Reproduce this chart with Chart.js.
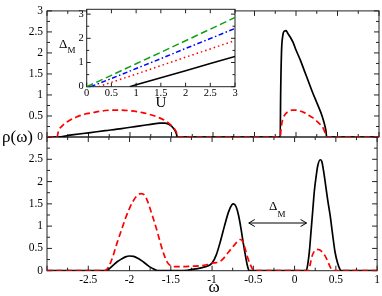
<!DOCTYPE html>
<html><head><meta charset="utf-8">
<script src="https://cdn.jsdelivr.net/npm/chart.js@4.4.0/dist/chart.umd.min.js"></script>
<style>
html,body{margin:0;padding:0;background:#fff;}
#wrap{position:relative;width:382px;height:296px;overflow:hidden;background:#fff;}
canvas{position:absolute;left:0;top:0;}
</style></head><body>
<div id="wrap">
<canvas id="cBottom" width="382" height="296"></canvas>
<canvas id="cTop" width="382" height="296"></canvas>
<canvas id="cInset" width="382" height="296"></canvas>
</div>
<script>
// ---------- DATA ----------
// Top panel: rho(omega)
const topBlackOmega = [-3, -2.88, -2.7, -2.5, -2.3, -2.1, -1.9, -1.75, -1.64, -1.58, -1.54, -1.5, -1.47, -1.45, -1.44, -1.43, -0.19, -0.185, -0.175, -0.16, -0.14, -0.12, -0.10, -0.07, -0.035, 0.0, 0.05, 0.1, 0.15, 0.2, 0.25, 0.3, 0.33, 0.35, 0.36, 0.37, 1];
const topBlackRho   = [0, 0, 0.05, 0.10, 0.15, 0.20, 0.26, 0.30, 0.33, 0.33, 0.31, 0.26, 0.19, 0.12, 0.07, 0, 0, 1.0, 2.0, 2.4, 2.52, 2.53, 2.47, 2.38, 2.25, 2.07, 1.84, 1.58, 1.32, 1.06, 0.82, 0.58, 0.40, 0.25, 0.15, 0, 0];
const topRedOmega = [-3, -2.88, -2.86, -2.82, -2.75, -2.65, -2.55, -2.45, -2.3, -2.155, -2.0, -1.85, -1.75, -1.65, -1.56, -1.5, -1.46, -1.44, -1.43, -0.19, -0.18, -0.16, -0.13, -0.09, -0.04, 0.0, 0.05, 0.1, 0.15, 0.2, 0.25, 0.3, 0.33, 0.35, 0.37, 1];
const topRedRho   = [0, 0, 0.15, 0.26, 0.37, 0.47, 0.54, 0.58, 0.63, 0.64, 0.625, 0.58, 0.53, 0.46, 0.37, 0.27, 0.18, 0.11, 0, 0, 0.2, 0.42, 0.54, 0.61, 0.64, 0.64, 0.62, 0.58, 0.52, 0.46, 0.38, 0.28, 0.2, 0.1, 0, 0];

// Bottom panel: rho(omega)
const botBlackOmega = [-3, -2.3, -2.25, -2.2, -2.15, -2.1, -2.05, -2.0, -1.95, -1.9, -1.85, -1.8, -1.75, -1.7, -1.66, -1.4, -1.3, -1.2, -1.1, -1.0, -0.95, -0.9, -0.85, -0.8, -0.76, -0.74, -0.71, -0.68, -0.65, -0.62, -0.59, -0.57, -0.55, 0.14, 0.16, 0.18, 0.2, 0.22, 0.24, 0.26, 0.28, 0.31, 0.33, 0.35, 0.37, 0.4, 0.43, 0.46, 0.49, 0.52, 0.55, 0.57, 1];
const botBlackRho   = [0, 0, 0.04, 0.12, 0.2, 0.26, 0.31, 0.33, 0.32, 0.28, 0.22, 0.15, 0.08, 0.03, 0, 0, 0.01, 0.04, 0.08, 0.17, 0.35, 0.65, 1.0, 1.32, 1.48, 1.5, 1.44, 1.25, 0.95, 0.6, 0.28, 0.1, 0, 0, 0.15, 0.45, 0.9, 1.35, 1.8, 2.1, 2.35, 2.49, 2.45, 2.25, 2.0, 1.6, 1.25, 0.82, 0.42, 0.18, 0.03, 0, 0];
const botRedOmega = [-3, -2.3, -2.25, -2.2, -2.15, -2.1, -2.05, -2.0, -1.95, -1.9, -1.86, -1.82, -1.78, -1.74, -1.7, -1.66, -1.62, -1.58, -1.54, -1.5, -1.45, -1.35, -1.25, -1.15, -1.05, -1.0, -0.95, -0.9, -0.85, -0.8, -0.75, -0.7, -0.66, -0.63, -0.6, -0.57, -0.54, -0.51, -0.49, 0.17, 0.19, 0.21, 0.24, 0.27, 0.3, 0.33, 0.36, 0.39, 0.42, 0.45, 0.47, 1];
const botRedRho   = [0, 0, 0.1, 0.33, 0.63, 0.9, 1.17, 1.4, 1.58, 1.7, 1.73, 1.7, 1.55, 1.33, 1.1, 0.85, 0.58, 0.35, 0.18, 0.11, 0.09, 0.09, 0.1, 0.11, 0.14, 0.17, 0.18, 0.21, 0.3, 0.42, 0.53, 0.64, 0.7, 0.66, 0.5, 0.3, 0.15, 0.04, 0, 0, 0.15, 0.32, 0.44, 0.48, 0.47, 0.43, 0.36, 0.26, 0.13, 0.02, 0, 0];

// Inset: Delta_M vs U
const insetGreenU = [0, 0.5, 1, 1.5, 2, 2.5, 3];
const insetGreenD = [0, 0.47, 0.95, 1.42, 1.9, 2.38, 2.86];
const insetBlueU  = [0.08, 0.5, 1, 1.5, 2, 2.5, 3];
const insetBlueD  = [0, 0.34, 0.75, 1.16, 1.58, 1.99, 2.41];
const insetRedU   = [0.24, 0.5, 1, 1.5, 2, 2.5, 3];
const insetRedD   = [0, 0.18, 0.52, 0.87, 1.22, 1.56, 1.91];
const insetBlackU = [0.87, 1, 1.5, 2, 2.5, 3];
const insetBlackD = [0, 0.08, 0.37, 0.66, 0.96, 1.25];

// Gap arrow (in data units of the bottom panel)
const gapArrowOmega = [-0.555, 0.145];
const gapArrowRho = 1.07;

// Axis ranges / tick steps
const omegaRange = [-3, 1];
const rhoRange = [0, 3];
const insetURange = [0, 3];
const insetDRange = [0, 3.2];

// ---------- helpers ----------
const SERIF = '"Liberation Serif", "Times New Roman", serif';
Chart.defaults.font.family = SERIF;
Chart.defaults.color = '#000';
function pts(xs, ys){ return xs.map((x, i) => ({x: x, y: ys[i]})); }
function isMajor(v, step){ const r = v / step; return Math.abs(r - Math.round(r)) < 1e-6; }
function fmt(v){ return String(Math.round(v * 100) / 100); }

const frameTicks = {
  id: 'frameTicks',
  beforeDatasetsDraw(chart, args, o){
    const ctx = chart.ctx, a = chart.chartArea;
    const xs = chart.scales.x, ys = chart.scales.y;
    ctx.save();
    if (o.fill){ ctx.fillStyle = o.fill; ctx.fillRect(a.left, a.top, a.right - a.left, a.bottom - a.top); }
    ctx.strokeStyle = o.color; ctx.lineWidth = 1;
    ctx.strokeRect(a.left, a.top, a.right - a.left, a.bottom - a.top);
    ctx.beginPath();
    for (let i = 0; ; i++){
      const v = xs.min + i * o.xMinor; if (v > xs.max + 1e-9) break;
      const p = xs.getPixelForValue(v);
      const len = isMajor(v, o.xMajor) ? o.major : o.minor;
      if (o.sides.includes('b')){ ctx.moveTo(p, a.bottom); ctx.lineTo(p, a.bottom - len); }
      if (o.sides.includes('t')){ ctx.moveTo(p, a.top); ctx.lineTo(p, a.top + len); }
    }
    for (let i = 0; ; i++){
      const v = ys.min + i * o.yMinor; if (v > ys.max + 1e-9) break;
      const p = ys.getPixelForValue(v);
      const len = isMajor(v, o.yMajor) ? o.major : o.minor;
      if (o.sides.includes('l')){ ctx.moveTo(a.left, p); ctx.lineTo(a.left + len, p); }
      if (o.sides.includes('r')){ ctx.moveTo(a.right, p); ctx.lineTo(a.right - len, p); }
    }
    ctx.stroke();
    ctx.restore();
  }
};

const texts = {
  id: 'texts',
  afterDatasetsDraw(chart, args, o){
    const ctx = chart.ctx;
    ctx.save();
    ctx.fillStyle = '#000';
    ctx.textBaseline = 'alphabetic';
    (o.items || []).forEach(t => {
      ctx.font = t.font; ctx.textAlign = t.align || 'left';
      ctx.fillText(t.text, t.x, t.y);
    });
    if (o.arrow){
      const xs = chart.scales.x, ys = chart.scales.y;
      const x1 = xs.getPixelForValue(o.arrow.x[0]), x2 = xs.getPixelForValue(o.arrow.x[1]);
      const y = ys.getPixelForValue(o.arrow.y);
      ctx.strokeStyle = '#000'; ctx.lineWidth = 1;
      ctx.beginPath();
      ctx.moveTo(x1, y); ctx.lineTo(x2, y);
      ctx.moveTo(x1 + 6, y - 3.5); ctx.lineTo(x1, y); ctx.lineTo(x1 + 6, y + 3.5);
      ctx.moveTo(x2 - 6, y - 3.5); ctx.lineTo(x2, y); ctx.lineTo(x2 - 6, y + 3.5);
      ctx.stroke();
    }
    ctx.restore();
  }
};

const lineStyle = {pointRadius: 0, borderWidth: 1.7, fill: false, cubicInterpolationMode: 'monotone'};
const BLACK = '#000000', RED = '#ff0000';

function mainChart(id, datasets, opts){
  return new Chart(document.getElementById(id), {
    type: 'line',
    data: {datasets: datasets},
    plugins: [frameTicks, texts],
    options: {
      responsive: false, animation: false, devicePixelRatio: 1,
      layout: {padding: opts.padding},
      scales: {
        x: {
          type: 'linear', min: omegaRange[0], max: omegaRange[1], display: opts.xDisplay,
          grid: {display: false, drawTicks: false}, border: {display: false},
          ticks: {stepSize: 0.5, padding: 2, font: {size: 11.5}, maxRotation: 0, autoSkip: false,
                  callback: v => (Math.abs(v - omegaRange[0]) < 1e-9 ? '' : fmt(v))},
          afterFit: s => { s.height = opts.xHeight; }
        },
        y: {
          type: 'linear', min: rhoRange[0], max: rhoRange[1],
          grid: {display: false, drawTicks: false}, border: {display: false},
          ticks: {stepSize: 0.5, padding: 4, font: {size: 11.5}, includeBounds: false,
                  callback: v => (opts.hideTop && Math.abs(v - rhoRange[1]) < 1e-9 ? '' : fmt(v))},
          afterFit: s => { s.width = 47; }
        }
      },
      plugins: {
        legend: {display: false}, tooltip: {enabled: false},
        frameTicks: {color: '#222', major: 5, minor: 3, xMajor: 0.5, xMinor: 0.25, yMajor: 0.5, yMinor: 0.25, sides: opts.sides},
        texts: opts.texts
      }
    }
  });
}

// Bottom panel
mainChart('cBottom', [
  Object.assign({data: pts(botRedOmega, botRedRho), borderColor: RED, borderDash: [6, 3.5]}, lineStyle),
  Object.assign({data: pts(botBlackOmega, botBlackRho), borderColor: BLACK}, lineStyle)
], {
  padding: {left: 0, right: 3, top: 137, bottom: 0},
  xDisplay: true, xHeight: 25.3, hideTop: true, sides: 'lrbt',
  texts: {
    items: [
      {text: 'ω', x: 214, y: 292, font: '17px ' + SERIF, align: 'center'},
      {text: 'Δ', x: 269, y: 210, font: '13px ' + SERIF},
      {text: 'M', x: 277.5, y: 216.5, font: '9px ' + SERIF}
    ],
    arrow: {x: gapArrowOmega, y: gapArrowRho}
  }
});

// Top panel
mainChart('cTop', [
  Object.assign({data: pts(topRedOmega, topRedRho), borderColor: RED, borderDash: [6, 3.5]}, lineStyle),
  Object.assign({data: pts(topBlackOmega, topBlackRho), borderColor: BLACK}, lineStyle)
], {
  padding: {left: 0, right: 3, top: 4.5, bottom: 159},
  xDisplay: false, xHeight: 0, hideTop: false, sides: 'lrbt',
  texts: {
    items: [
      {text: 'ρ(ω)', x: 2, y: 142, font: '17px ' + SERIF}
    ]
  }
});

// Inset
const insetStyle = {pointRadius: 0, borderWidth: 1.5, fill: false, tension: 0};
new Chart(document.getElementById('cInset'), {
  type: 'line',
  data: {datasets: [
    Object.assign({data: pts(insetGreenU, insetGreenD), borderColor: '#10a010', borderDash: [7, 3.5]}, insetStyle),
    Object.assign({data: pts(insetBlueU, insetBlueD), borderColor: '#0000ff', borderDash: [5, 2.5, 1.5, 2.5]}, insetStyle),
    Object.assign({data: pts(insetRedU, insetRedD), borderColor: RED, borderDash: [1.5, 3]}, insetStyle),
    Object.assign({data: pts(insetBlackU, insetBlackD), borderColor: BLACK}, insetStyle)
  ]},
  plugins: [frameTicks, texts],
  options: {
    responsive: false, animation: false, devicePixelRatio: 1,
    layout: {padding: {left: 66.7, right: 147, top: 5, bottom: 194.3}},
    scales: {
      x: {
        type: 'linear', min: insetURange[0], max: insetURange[1],
        grid: {display: false, drawTicks: false}, border: {display: false},
        ticks: {stepSize: 0.5, padding: 0, font: {size: 10.5}, maxRotation: 0, autoSkip: false,
                callback: v => fmt(v)},
        afterFit: s => { s.height = 15; }
      },
      y: {
        type: 'linear', min: insetDRange[0], max: insetDRange[1],
        grid: {display: false, drawTicks: false}, border: {display: false},
        ticks: {stepSize: 1, padding: 3, font: {size: 10.5}, includeBounds: false,
                callback: v => fmt(v)},
        afterFit: s => { s.width = 20; }
      }
    },
    plugins: {
      legend: {display: false}, tooltip: {enabled: false},
      frameTicks: {fill: '#fff', color: '#222', major: 4, minor: 2.5, xMajor: 0.5, xMinor: 0.5, yMajor: 1, yMinor: 0.5, sides: 'lrbt'},
      texts: {items: [
        {text: 'U', x: 161, y: 107, font: '15px ' + SERIF, align: 'center'},
        {text: 'Δ', x: 59, y: 48, font: '13px ' + SERIF},
        {text: 'M', x: 67.5, y: 53, font: '9px ' + SERIF}
      ]}
    }
  }
});
</script>
</body></html>
